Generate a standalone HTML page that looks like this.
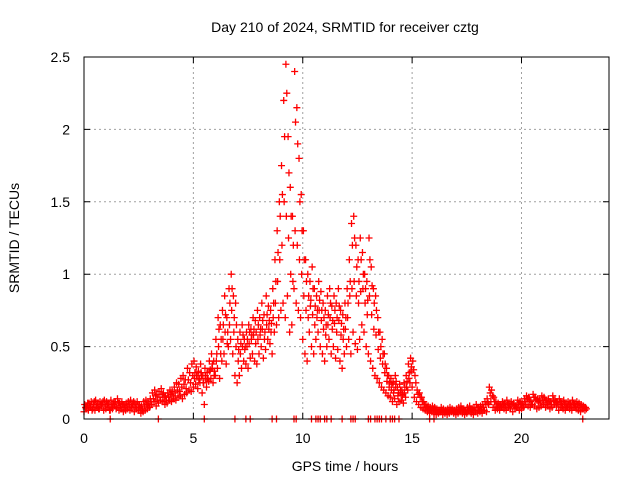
<!DOCTYPE html>
<html><head><meta charset="utf-8"><style>
body{margin:0;background:#fff}
svg{display:block;font-family:"Liberation Sans",sans-serif}
</style></head><body>
<svg id="chart" width="640" height="480" viewBox="0 0 640 480">
<rect width="640" height="480" fill="#fff"/>
<text x="345" y="32" font-size="14" text-anchor="middle">Day 210 of 2024, SRMTID for receiver cztg</text>
<text transform="translate(19,238) rotate(-90)" font-size="14" text-anchor="middle">SRMTID / TECUs</text>
<text x="345" y="471" font-size="14" text-anchor="middle">GPS time / hours</text>
<g id="grid"></g><g id="ticks"></g><g id="marks"></g>
<rect x="84" y="57" width="525" height="362" fill="none" stroke="#000" stroke-width="1"/>
</svg>
<script>
const xTicks=[0,5,10,15,20];
const yTicks=[0,0.5,1,1.5,2,2.5];
const yTickLabels=["0","0.5","1","1.5","2","2.5"];
const lowVals=[0.05,0.07,0.06,0.08,0.07,0.06,0.08,0.07,0.09,0.06,
0.07,0.08,0.06,0.07,0.09,0.08,0.06,0.07,0.05,0.06,
0.07,0.06,0.08,0.05,0.07,0.06,0.04,0.05,0.06,0.07,
0.08,0.10,0.12,0.09,0.11,0.13,0.12,0.10,0.11,0.13,
0.12,0.14,0.13,0.15,0.16,0.14,0.17,0.18,0.20,0.19,
0.22,0.24,0.21,0.25,0.18,0.10,0.22,0.26,0.28,0.25,
0.30,0.35,0.28,0.40,0.45,0.38,0.50,0.55,0.45,0.30,
0.25,0.30,0.35,0.40,0.38,0.35,0.42,0.45,0.40,0.38,
0.45,0.50,0.42,0.48,0.55,0.52,0.45,0.60,0.65,0.70,
0.75,0.80,0.70,0.85,0.60,0.65,0.90,0.80,0.75,0.70,
0.55,0.45,0.40,0.60,0.50,0.45,0.55,0.60,0.50,0.45,
0.40,0.50,0.55,0.45,0.50,0.42,0.48,0.40,0.35,0.45,
0.50,0.55,0.45,0.60,0.52,0.48,0.55,0.65,0.60,0.50,
0.45,0.40,0.35,0.30,0.28,0.25,0.22,0.20,0.18,0.16,
0.15,0.12,0.14,0.10,0.12,0.13,0.11,0.15,0.20,0.25,
0.22,0.15,0.12,0.10,0.08,0.07,0.06,0.05,0.04,0.05,
0.04,0.03,0.04,0.05,0.03,0.04,0.03,0.04,0.05,0.04,
0.03,0.04,0.05,0.04,0.03,0.04,0.05,0.04,0.03,0.05,
0.04,0.05,0.04,0.06,0.05,0.10,0.12,0.08,0.06,0.07,
0.06,0.08,0.07,0.06,0.08,0.07,0.05,0.07,0.08,0.06,
0.07,0.08,0.10,0.09,0.08,0.10,0.09,0.07,0.08,0.09,
0.10,0.08,0.09,0.07,0.08,0.10,0.09,0.06,0.08,0.07,
0.06,0.08,0.07,0.06,0.08,0.07,0.06,0.05,0.07,0.06];
const highVals=[0.10,0.09,0.11,0.12,0.10,0.13,0.11,0.12,0.10,0.13,
0.12,0.11,0.13,0.10,0.12,0.14,0.11,0.12,0.10,0.11,
0.12,0.13,0.10,0.11,0.12,0.10,0.09,0.12,0.13,0.11,
0.14,0.18,0.20,0.17,0.19,0.21,0.18,0.16,0.18,0.20,
0.19,0.22,0.25,0.24,0.28,0.30,0.27,0.35,0.32,0.38,
0.40,0.36,0.33,0.38,0.30,0.35,0.32,0.40,0.45,0.40,
0.55,0.70,0.65,0.75,0.85,0.70,0.90,1.00,0.85,0.80,
0.55,0.60,0.65,0.55,0.60,0.65,0.62,0.70,0.68,0.75,
0.70,0.80,0.72,0.85,0.78,0.75,0.90,1.10,1.30,1.50,
1.75,2.20,2.45,1.95,1.60,1.40,2.40,2.15,1.80,1.55,
1.30,1.10,1.00,0.95,1.05,0.90,0.85,0.95,0.88,0.80,
0.75,0.85,0.90,0.78,0.85,0.80,0.90,0.75,0.72,0.80,
0.90,1.10,1.35,1.40,1.20,1.10,1.25,1.15,1.00,0.95,
1.25,1.05,0.90,0.85,0.70,0.60,0.55,0.45,0.35,0.30,
0.28,0.25,0.30,0.22,0.24,0.20,0.25,0.30,0.38,0.42,
0.40,0.30,0.20,0.18,0.15,0.12,0.10,0.09,0.08,0.09,
0.08,0.07,0.06,0.08,0.07,0.06,0.07,0.08,0.07,0.06,
0.07,0.08,0.09,0.07,0.06,0.08,0.09,0.07,0.08,0.10,
0.08,0.09,0.10,0.12,0.14,0.22,0.20,0.15,0.12,0.11,
0.10,0.12,0.11,0.13,0.10,0.12,0.11,0.09,0.13,0.12,
0.11,0.14,0.16,0.15,0.12,0.17,0.15,0.14,0.13,0.16,
0.15,0.13,0.14,0.12,0.16,0.13,0.12,0.14,0.11,0.13,
0.10,0.12,0.11,0.13,0.10,0.12,0.11,0.10,0.09,0.08];
const extraVals=[0.08,0.11,0.09,0.06,0.12,0.09,0.07,0.10,0.12,0.09,
0.10,0.06,0.09,0.12,0.07,0.11,0.09,0.10,0.08,0.09,
0.10,0.09,0.12,0.08,0.10,0.08,0.07,0.09,0.10,0.09,
0.12,0.14,0.16,0.13,0.15,0.17,0.15,0.13,0.15,0.17,
0.16,0.18,0.20,0.19,0.22,0.24,0.21,0.27,0.25,0.30,
0.32,0.30,0.28,0.30,0.25,0.28,0.27,0.34,0.38,0.33,
0.45,0.62,0.55,0.65,0.72,0.60,0.80,0.90,0.70,0.65,
0.48,0.52,0.58,0.50,0.55,0.60,0.58,0.62,0.60,0.65,
0.62,0.68,0.60,0.72,0.68,0.66,0.80,0.95,1.15,1.40,
1.55,1.95,2.25,1.70,1.40,1.20,2.05,1.90,1.50,1.30,
1.10,0.95,0.85,0.82,0.90,0.78,0.75,0.82,0.75,0.70,
0.65,0.72,0.80,0.68,0.75,0.70,0.78,0.66,0.62,0.70,
0.80,0.95,1.20,1.25,1.05,0.95,1.10,1.00,0.90,0.82,
1.10,0.92,0.80,0.75,0.60,0.50,0.45,0.38,0.30,0.25,
0.24,0.20,0.26,0.18,0.20,0.17,0.22,0.26,0.32,0.36,
0.34,0.25,0.17,0.15,0.12,0.10,0.08,0.07,0.06,0.07,
0.06,0.05,0.05,0.06,0.05,0.05,0.05,0.06,0.06,0.05,
0.05,0.06,0.07,0.06,0.05,0.06,0.07,0.06,0.06,0.08,
0.06,0.07,0.08,0.10,0.11,0.18,0.16,0.12,0.09,0.09,
0.08,0.10,0.09,0.11,0.09,0.10,0.09,0.08,0.11,0.10,
0.09,0.12,0.14,0.13,0.10,0.15,0.13,0.12,0.11,0.13,
0.13,0.11,0.12,0.10,0.13,0.12,0.10,0.12,0.09,0.11,
0.08,0.10,0.09,0.11,0.09,0.10,0.09,0.08,0.08,0.07];
const midVals=[0.28,0.30,0.27,0.32,0.25,0.30,0.28,0.33,0.35,0.30,
0.40,0.50,0.45,0.55,0.60,0.52,0.65,0.75,0.60,0.50,
0.40,0.45,0.50,0.48,0.50,0.52,0.55,0.58,0.52,0.55,
0.58,0.62,0.55,0.65,0.62,0.60,0.70,0.80,0.95,1.10,
1.20,1.50,1.40,1.25,1.00,0.95,1.30,1.20,1.10,1.00,
0.85,0.75,0.70,0.78,0.72,0.65,0.70,0.75,0.68,0.62,
0.58,0.65,0.70,0.62,0.66,0.60,0.68,0.58,0.55,0.62,
0.70,0.85,0.90,0.95,0.85,0.80,0.88,0.90,0.80,0.72,
0.85,0.72,0.62,0.58,0.48,0.42,0.38,0.32,0.26,0.22,
0.20,0.18,0.22,0.16,0.18,0.16,0.18,0.22,0.28,0.33];
const zeroTimes=[1.2,3.4,5.5,6.9,7.4,7.6,8.6,8.8,9.6,9.7,10.4,10.6,10.7,10.8,11.0,11.1,11.3,11.8,12.2,12.3,12.4,13.0,13.1,13.3,13.4,13.5,13.6,13.8,14.0,14.1,14.2,14.4,15.8,16.0,22.8];
const NS="http://www.w3.org/2000/svg";
const X0=84,X1=609,Y0=419,Y1=57,XMAX=24,YMAX=2.5;
function xs(t){return X0+t/XMAX*(X1-X0);}
function ys(v){return Y0-v/YMAX*(Y0-Y1);}
const grid=document.getElementById('grid'),ticks=document.getElementById('ticks'),marks=document.getElementById('marks');
function mk(tag,attrs,parent){const e=document.createElementNS(NS,tag);for(const k in attrs)e.setAttribute(k,attrs[k]);parent.appendChild(e);return e;}
xTicks.forEach(t=>{
  const x=xs(t);
  if(t>0){const g=mk('line',{x1:x,x2:x,y1:Y1,y2:Y0,stroke:'#a0a0a0','stroke-dasharray':'2,3'},grid);
  
  }
  const tk=mk('path',{d:`M${x},${Y0}v-6M${x},${Y1}v6`,stroke:'#000'},ticks);
  
  
  const l=mk('text',{x:x,y:443,'font-size':14,'text-anchor':'middle'},ticks);l.textContent=String(t);
  
  
});
yTicks.forEach((v,i)=>{
  const y=ys(v);
  if(v>0&&v<YMAX){const g=mk('line',{x1:X0,x2:X1,y1:y,y2:y,stroke:'#a0a0a0','stroke-dasharray':'2,3'},grid);
  
  }
  const tk=mk('path',{d:`M${X0},${y}h6M${X1},${y}h-6`,stroke:'#000'},ticks);
  
  
  const l=mk('text',{x:70,y:y+5,'font-size':14,'text-anchor':'end'},ticks);l.textContent=yTickLabels[i];
  
  
});
function plus(t,v,color){
  const x=xs(t),y=ys(v);
  const p=mk('path',{d:`M${x-3.5},${y}h7M${x},${y-3.5}v7`,stroke:color,'stroke-width':1.3},marks);
  
  
}
lowVals.forEach((v,i)=>plus(i*0.1,v,'#ff0000'));
highVals.forEach((v,i)=>plus(i*0.1+0.03,v,'#ff0000'));
extraVals.forEach((v,i)=>plus(i*0.1+0.07,v,'#ff0000'));
midVals.forEach((v,i)=>plus(5.05+i*0.1,v,'#ff0000'));
zeroTimes.forEach(t=>plus(t,0,'#ff0000'));
</script>
</body></html>
